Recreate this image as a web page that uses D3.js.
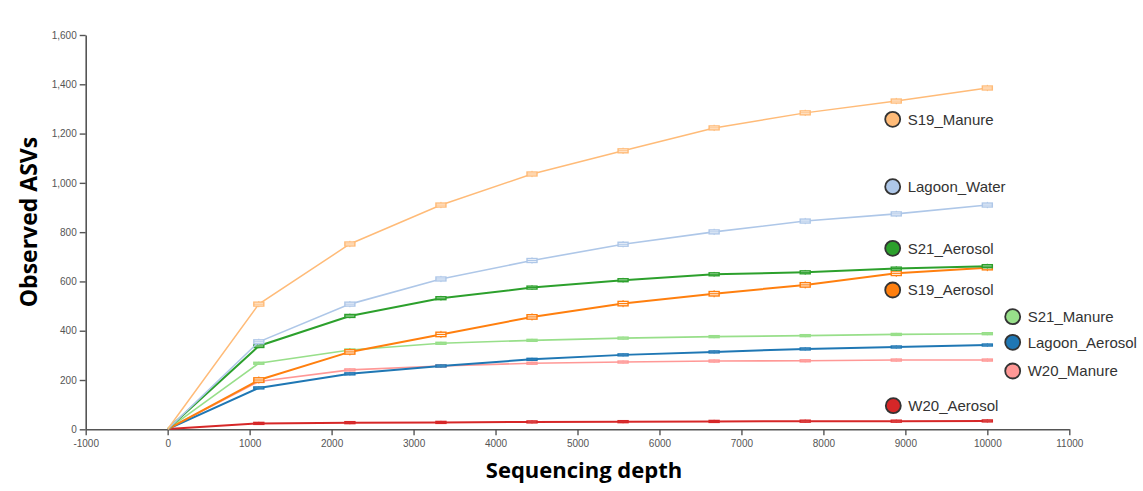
<!DOCTYPE html>
<html>
<head>
<meta charset="utf-8">
<script src="https://cdn.jsdelivr.net/npm/d3@7/dist/d3.min.js"></script>
<style>
  html, body { margin: 0; padding: 0; background: #fff; }
  svg { display: block; }
</style>
</head>
<body>
<svg id="chart" width="1143" height="491"></svg>
<script>
// Rarefaction depths (10 evenly spaced steps from 1 to 10000)
const depths = [1, 1112, 2223, 3334, 4445, 5556, 6667, 7778, 8889, 10000];

// Sample groups, drawing order and colours
const groups = ["S19_Manure", "Lagoon_Water", "S21_Aerosol", "S19_Aerosol",
                "S21_Manure", "Lagoon_Aerosol", "W20_Manure", "W20_Aerosol"];
const colors = ["#ffbb78", "#aec7e8", "#2ca02c", "#ff7f0e",
                "#98df8a", "#1f77b4", "#ff9896", "#d62728"];

// Median observed ASVs at each depth
const s19Manure     = [1, 508, 752, 910, 1036, 1130, 1223, 1284, 1332, 1385];
const lagoonWater   = [1, 355, 508, 610, 685, 751, 801, 845, 874, 910];
const s21Aerosol    = [1, 338, 460, 532, 575, 605, 629, 637, 652, 662];
const s19Aerosol    = [1, 200, 314, 385, 456, 510, 550, 586, 633, 656];
const s21Manure     = [1, 268, 322, 349, 361, 370, 376, 380, 385, 388];
const lagoonAerosol = [1, 168, 225, 257, 284, 302, 314, 326, 334, 342];
const w20Manure     = [1, 194, 241, 257, 268, 273, 277, 278, 281, 281];
const w20Aerosol    = [1, 24, 27, 28, 30, 31, 32, 33, 33, 34];

// Half interquartile spread of the boxes for each group (ASVs)
const boxSpread = [8, 8, 6, 9, 4, 4, 4, 4];

const seriesValues = [s19Manure, lagoonWater, s21Aerosol, s19Aerosol,
                      s21Manure, lagoonAerosol, w20Manure, w20Aerosol];

// Axis tick values
const xTicks = [-1000, 0, 1000, 2000, 3000, 4000, 5000, 6000, 7000, 8000, 9000, 10000, 11000];
const yTicks = [0, 200, 400, 600, 800, 1000, 1200, 1400, 1600];

const svg = d3.select("#chart");

const x = d3.scaleLinear().domain([-1000, 11000]).range([85.7, 1069.3]);
const y = d3.scaleLinear().domain([0, 1600]).range([429.3, 35]);

// Axes
const axisColor = "#555";
const gx = svg.append("g")
  .attr("transform", `translate(0,${y(0)})`)
  .call(d3.axisBottom(x).tickValues(xTicks).tickFormat(d => String(d)).tickSize(6).tickSizeOuter(0));
const gy = svg.append("g")
  .attr("transform", `translate(${x(-1000)},0)`)
  .call(d3.axisLeft(y).tickValues(yTicks).tickFormat(d3.format(",")).tickSize(6).tickSizeOuter(0));

[gx, gy].forEach(g => {
  g.select(".domain").attr("stroke", axisColor).attr("stroke-width", 1.6);
  g.selectAll(".tick line").attr("stroke", axisColor).attr("stroke-width", 1.4);
  g.selectAll(".tick text")
    .attr("fill", "#555")
    .style("font-family", "'Liberation Sans', Arial, sans-serif")
    .style("font-size", "10px");
});
gx.selectAll(".tick text").attr("dy", "0.9em");

// Axis titles
svg.append("text")
  .attr("x", 584).attr("y", 478)
  .attr("text-anchor", "middle")
  .style("font-family", "'Open Sans', sans-serif")
  .style("font-weight", "700")
  .style("font-size", "22px")
  .attr("fill", "#000")
  .text("Sequencing depth");

svg.append("text")
  .attr("transform", "translate(37,222) rotate(-90)")
  .attr("text-anchor", "middle")
  .style("font-family", "'Open Sans', sans-serif")
  .style("font-weight", "700")
  .style("font-size", "23px")
  .attr("fill", "#000")
  .text("Observed ASVs");

// Series lines, drawn back to front
const line = d3.line()
  .x((d, i) => x(depths[i]))
  .y(d => y(d));

const order = [7, 6, 5, 4, 3, 2, 1, 0];
const thick = [1.5, 1.6, 2, 2, 1.6, 2, 1.6, 2];

order.forEach(k => {
  const vals = seriesValues[k];
  const g = svg.append("g");
  g.append("path")
    .datum(vals)
    .attr("d", line)
    .attr("fill", "none")
    .attr("stroke", colors[k])
    .attr("stroke-width", thick[k]);

  // box markers at each rarefied depth (skip the origin)
  const boxes = g.selectAll("g.box")
    .data(vals.map((v, i) => ({ v, i })).filter(d => d.i > 0))
    .join("g");
  boxes.append("line")
    .attr("x1", d => x(depths[d.i])).attr("x2", d => x(depths[d.i]))
    .attr("y1", d => y(d.v + boxSpread[k] * 1.6))
    .attr("y2", d => y(d.v - boxSpread[k] * 1.6))
    .attr("stroke", colors[k]).attr("stroke-width", 1);
  boxes.append("rect")
    .attr("x", d => x(depths[d.i]) - 5)
    .attr("width", 10)
    .attr("y", d => y(d.v + boxSpread[k]))
    .attr("height", d => y(d.v - boxSpread[k]) - y(d.v + boxSpread[k]))
    .attr("fill", "#fff")
    .attr("stroke", colors[k])
    .attr("stroke-width", 1.4);
  boxes.append("line")
    .attr("x1", d => x(depths[d.i]) - 5).attr("x2", d => x(depths[d.i]) + 5)
    .attr("y1", d => y(d.v)).attr("y2", d => y(d.v))
    .attr("stroke", colors[k]).attr("stroke-width", 1.2);
});

// Group labels placed beside the curve ends
const labelPos = [
  [892.7, 119.3], [892.7, 186.7], [892.7, 248.3], [892.7, 290],
  [1012.7, 316.7], [1012.7, 342.3], [1012.7, 371], [893.3, 405.7]
];
const legend = svg.append("g");
groups.forEach((name, k) => {
  const [cx, cy] = labelPos[k];
  legend.append("circle")
    .attr("cx", cx).attr("cy", cy).attr("r", 7.5)
    .attr("fill", colors[k])
    .attr("stroke", "#333")
    .attr("stroke-width", 1.8);
  legend.append("text")
    .attr("x", cx + 15).attr("y", cy)
    .attr("dy", "0.36em")
    .style("font-family", "'Liberation Sans', Arial, sans-serif")
    .style("font-size", "15px")
    .attr("fill", "#333")
    .text(name);
});
</script>
</body>
</html>
